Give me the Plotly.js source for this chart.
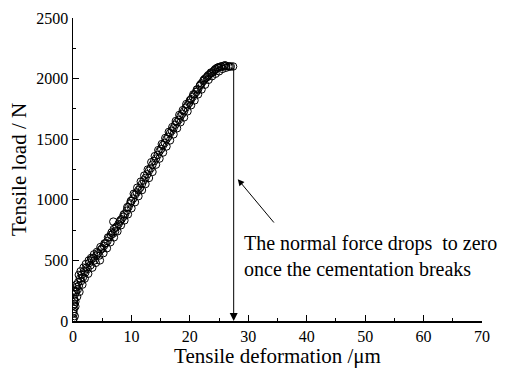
<!DOCTYPE html>
<html><head><meta charset="utf-8">
<script src="https://cdn.plot.ly/plotly-3.0.1.min.js"></script>
<style>html,body{margin:0;padding:0;background:#fff}</style>
</head><body>
<div id="chart" style="width:506px;height:368px"></div>
<script>
// Band A of measured points
const deformA = [0.1,0.1,0.15,0.2,0.2,0.3,0.4,0.5,0.6,0.8,0.9,1.0,1.2,1.4,1.5,1.7,1.9,2.1,2.3,2.5,2.8,3.0,3.2,3.5,3.7,4.0,4.3,4.5,4.8,5.0,5.3,5.6,5.9,6.2,6.5,6.8,7.0,7.2,7.5,7.8,8.0,8.3,8.6,8.9,9.2,9.5,9.8,10.0,10.3,10.6,10.9,11.2,11.5,11.8,12.1,12.4,12.7,13.0,13.3,13.6,13.9,14.2,14.5,14.8,15.1,15.4,15.7,16.0,16.3,16.6,16.9,17.2,17.5,17.8,18.1,18.4,18.7,19.0,19.3,19.6,19.9,20.2,20.5,20.8,21.1,21.4,21.7,22.0,22.3,22.6,22.9,23.2,23.5,23.8,24.1,24.4,24.7,25.0,25.4,25.8,26.2,26.6,27.0,27.4];
const loadA = [20,60,100,140,180,220,160,240,280,260,320,290,350,330,380,360,410,400,440,430,480,460,510,520,500,540,560,540,590,600,620,640,660,690,710,720,760,740,780,800,820,840,860,880,910,940,970,990,1010,1040,1060,1080,1100,1130,1160,1180,1210,1240,1260,1290,1320,1340,1370,1400,1420,1450,1470,1500,1520,1550,1570,1590,1620,1640,1660,1690,1710,1730,1760,1780,1800,1830,1850,1870,1890,1910,1940,1960,1980,2000,2010,2030,2040,2050,2060,2080,2090,2095,2100,2105,2105,2100,2100,2100];
// Band B of measured points
const deformB = [0.3,0.4,0.7,1.1,1.6,2.0,2.6,3.3,3.9,4.6,5.2,5.8,6.4,7.0,7.6,8.2,8.8,9.4,10.0,10.6,11.2,11.8,12.4,13.0,13.6,14.2,14.8,15.4,16.0,16.6,17.2,17.8,18.4,19.0,19.6,20.2,20.8,21.4,22.0,22.6,23.2,23.8,24.4,25.0,25.6,26.2];
const loadB = [40,120,200,240,300,350,390,440,480,500,560,600,650,690,740,790,830,880,930,980,1030,1080,1130,1180,1230,1290,1340,1390,1440,1490,1540,1590,1640,1680,1730,1780,1820,1870,1910,1950,1990,2020,2040,2060,2080,2090];
// Band C of measured points
const deformC = [0.0,0.05,0.1,0.2,0.3,0.6,1.0,1.3,1.8,2.2,2.7,3.1,3.6,4.1,4.7,5.4,6.0,6.6,6.9,7.3,8.1,8.7,9.3,9.9,10.4,11.0,11.6,12.2,12.8,13.4,14.0,14.6,15.2,15.8,16.4,17.0,17.6,18.2,18.8,19.4,20.0,20.6,21.2,21.8,22.4,23.0,23.6,24.2,24.8,25.3,26.0,26.8];
const loadC = [10,80,130,170,250,300,380,410,440,470,500,520,550,570,610,640,690,730,820,770,830,880,940,990,1050,1100,1150,1200,1250,1310,1360,1410,1460,1510,1560,1600,1650,1700,1740,1790,1820,1870,1910,1950,1990,2020,2050,2070,2090,2100,2110,2100];
const breakDeform = 27.5;
const peakLoad = 2100;
const xTicks = [0,10,20,30,40,50,60,70];
const yTicks = [0,500,1000,1500,2000,2500];
const noteText = "The normal force drops  to zero<br>once the cementation breaks";
const xTitle = "Tensile deformation /μm";
const yTitle = "Tensile load / N";

const marker = {symbol:'circle-open', size:7.5, color:'#000', line:{width:1,color:'#000'}};
const traces = [
  {x: deformA, y: loadA, mode:'markers', type:'scatter', marker: marker, hoverinfo:'none'},
  {x: deformB, y: loadB, mode:'markers', type:'scatter', marker: marker, hoverinfo:'none'},
  {x: deformC, y: loadC, mode:'markers', type:'scatter', marker: marker, hoverinfo:'none'}
];
const fam = 'Liberation Serif, Times New Roman, serif';
const f = (s) => ({family: fam, size: s, color: '#000'});
const layout = {
  width:506, height:368,
  margin:{l:73, r:24, t:18, b:47},
  paper_bgcolor:'#fff', plot_bgcolor:'#fff',
  showlegend:false,
  font: f(16),
  xaxis:{range:[0,70], tickvals:xTicks, ticks:'inside', ticklen:6, tickwidth:1, tickcolor:'#000',
    minor:{dtick:5, ticks:'inside', ticklen:3, tickcolor:'#000'},
    showline:true, linecolor:'#000', linewidth:1.5, showgrid:false, zeroline:false,
    tickfont:f(16),
    title:{text:xTitle, font:f(21), standoff:0}},
  yaxis:{range:[0,2500], tickvals:yTicks, ticks:'inside', ticklen:6, tickwidth:1, tickcolor:'#000',
    minor:{dtick:250, ticks:'inside', ticklen:3, tickcolor:'#000'},
    showline:true, linecolor:'#000', linewidth:1.5, showgrid:false, zeroline:false,
    tickfont:f(16),
    title:{text:yTitle, font:f(21), standoff:4}},
  annotations:[
    {x:breakDeform, y:0, xref:'x', yref:'y', ax:breakDeform, ay:peakLoad, axref:'x', ayref:'y',
     showarrow:true, arrowhead:2, arrowsize:1.6, arrowwidth:1, arrowcolor:'#000', text:''},
    {x:28.2, y:1170, xref:'x', yref:'y', ax:34.6, ay:800, axref:'x', ayref:'y',
     showarrow:true, arrowhead:2, arrowsize:1.3, arrowwidth:1, arrowcolor:'#000', text:''},
    {x:28.9, y:536, xref:'x', yref:'y', xanchor:'left', yanchor:'middle', align:'left',
     showarrow:false, text:noteText, font:f(20)}
  ]
};
Plotly.newPlot('chart', traces, layout, {displayModeBar:false, staticPlot:true});
</script>
</body></html>
